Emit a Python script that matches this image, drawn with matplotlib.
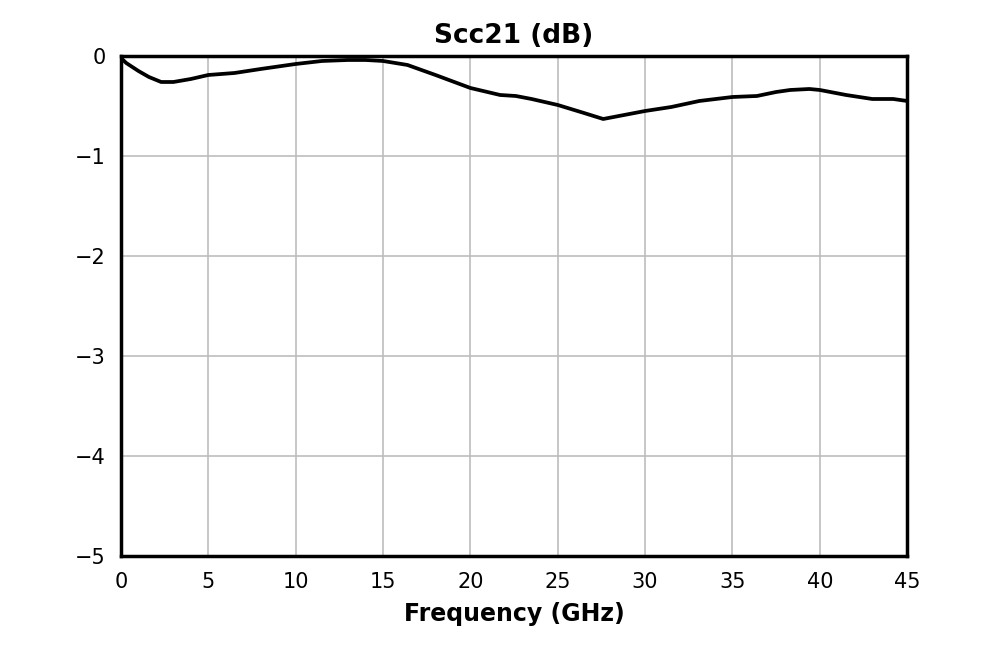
import matplotlib
matplotlib.use("Agg")
import matplotlib.pyplot as plt
import numpy as np

freq_ghz = [0.0, 0.3, 1.0, 1.6, 2.3, 3.0, 4.0, 5.0, 6.5, 8.0, 10.0, 11.5, 13.0, 14.0, 15.0,
            16.4, 18.0, 20.0, 21.7, 22.6, 23.5, 25.0, 26.5, 27.6, 28.5, 30.0, 31.5, 33.1,
            35.0, 36.4, 37.5, 38.3, 39.4, 40.0, 41.5, 43.0, 44.2, 45.0]
scc21_db = [-0.02, -0.07, -0.15, -0.21, -0.26, -0.26, -0.23, -0.19, -0.17, -0.13, -0.08, -0.05,
            -0.04, -0.04, -0.05, -0.09, -0.19, -0.32, -0.39, -0.40, -0.43, -0.49, -0.57, -0.63,
            -0.60, -0.55, -0.51, -0.45, -0.41, -0.40, -0.36, -0.34, -0.33, -0.34, -0.39, -0.43,
            -0.43, -0.45]

x_ticks = [0, 5, 10, 15, 20, 25, 30, 35, 40, 45]
y_ticks = [0, -1, -2, -3, -4, -5]

fig = plt.figure(figsize=(10.08, 6.48), dpi=100)
ax = fig.add_axes([0.12, 0.142, 0.78, 0.7716])
ax.plot(freq_ghz, scc21_db, color="black", lw=2.7, solid_joinstyle="round")
ax.set_xlim(0, 45)
ax.set_ylim(-5, 0)
ax.set_xticks(x_ticks)
ax.set_yticks(y_ticks)
ax.set_yticklabels(["0", "\u22121", "\u22122", "\u22123", "\u22124", "\u22125"])
ax.grid(True, color="#bdbdbd", lw=1.2)
ax.set_axisbelow(True)
for s in ax.spines.values():
    s.set_linewidth(2.5)
ax.tick_params(axis="x", length=0, labelsize=15, pad=11.5)
ax.tick_params(axis="y", length=0, labelsize=15, pad=11)
ax.set_title("Scc21 (dB)", fontsize=19, fontweight="bold", pad=9)
ax.set_xlabel("Frequency (GHz)", fontsize=17, fontweight="bold", labelpad=7)
fig.savefig("out.png", dpi=100)
